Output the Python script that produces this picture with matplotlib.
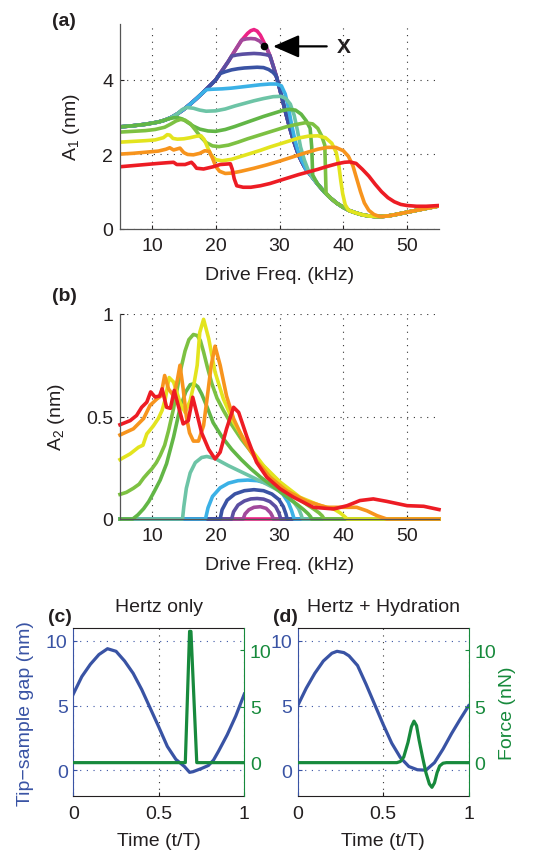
import numpy as np
import matplotlib
matplotlib.use("Agg")
import matplotlib.pyplot as plt

plt.rcParams['font.family'] = ['Liberation Sans', 'DejaVu Sans']
plt.rcParams['font.size'] = 14
plt.rcParams['mathtext.fontset'] = 'custom'
plt.rcParams['mathtext.rm'] = 'Liberation Sans'
plt.rcParams['mathtext.it'] = 'Liberation Sans:italic'

# one colour per setpoint, drawn in this order (pink first, red on top)
colors = ['#ec2285', '#a2499c', '#5b4fa2', '#3a53a4', '#3bb1e6', '#6dc4a6',
          '#62b646', '#7dc142', '#e3e41e', '#f7941d', '#ed1c24']

# ---------- panel (a): A1 vs drive frequency ----------
# free resonance curve (pink) that every curve follows outside its plateau
env_f = [5, 7, 9, 11, 12, 13, 14, 15, 16, 17, 18, 19, 20, 21, 22, 23, 24, 25, 25.5, 26,
         26.5, 27, 27.5, 28, 28.5, 29, 29.5, 30, 30.5, 31, 31.5, 32, 32.5, 33, 33.5, 34, 35, 36, 37, 38,
         39, 40, 41, 42, 43, 44, 45, 46, 47, 48, 50, 52, 55]
env_a = [2.74, 2.77, 2.81, 2.87, 2.92, 2.99, 3.09, 3.21, 3.35, 3.5, 3.66, 3.83, 4.0, 4.25, 4.5, 4.78, 5.05, 5.25, 5.32, 5.35,
         5.31, 5.2, 5.03, 4.85, 4.65, 4.38, 4.1, 3.78, 3.44, 3.1, 2.78, 2.48, 2.22, 1.98, 1.8, 1.64, 1.42, 1.2, 1.0, 0.83,
         0.69, 0.58, 0.49, 0.43, 0.38, 0.35, 0.335, 0.335, 0.35, 0.38, 0.45, 0.52, 0.62]

purple_f = [24.1, 24.8, 25.5, 26.2, 26.9, 27.6]
purple_a = [5.07, 5.1, 5.11, 5.1, 5.04, 4.92]
indigo_f = [22.5, 23.3, 24.2, 25, 26, 27, 27.8, 28.3]
indigo_a = [4.64, 4.67, 4.69, 4.7, 4.71, 4.7, 4.68, 4.66]
darkblue_f = [20.7, 21.5, 22.5, 23.5, 24.5, 25.5, 26.5, 27.5, 28.3, 29, 29.4]
darkblue_a = [4.17, 4.22, 4.27, 4.3, 4.32, 4.33, 4.34, 4.33, 4.28, 4.2, 4.12]
lightblue_f = [18.6, 19.5, 21, 22.5, 24, 25.5, 27, 28.5, 29.5, 30.3, 30.9, 31.4, 31.9, 32.4, 32.9, 33.4, 33.9]
lightblue_a = [3.74, 3.75, 3.76, 3.78, 3.81, 3.84, 3.87, 3.89, 3.89, 3.84, 3.62, 3.25, 2.8, 2.4, 2.1, 1.87, 1.7]
teal_f = [14.7, 15.5, 16.5, 17.5, 18.5, 20, 21.5, 23, 24.5, 26, 27.5, 29, 30.2, 31, 31.7, 32.3, 32.8, 33.3, 33.9, 34.5]
teal_a = [3.2, 3.26, 3.24, 3.19, 3.16, 3.17, 3.22, 3.3, 3.37, 3.44, 3.5, 3.55, 3.56, 3.5, 3.35, 3.05, 2.65, 2.2, 1.85, 1.58]
greenA_f = [12.5, 13.3, 14, 14.8, 15.6, 16.5, 17.5, 18.8, 20, 21.5, 23, 24.5, 26, 27.5, 29, 30.5, 31.5, 32.5,
            33.4, 34.2, 34.8, 35.05, 35.2]
greenA_a = [2.95, 2.98, 2.99, 2.95, 2.86, 2.76, 2.68, 2.63, 2.62, 2.67, 2.75, 2.84, 2.93, 3.02, 3.1, 3.18, 3.21, 3.19,
            3.08, 2.9, 2.7, 2.2, 1.45]
greenB_f = [5, 7, 9, 10.5, 12, 13, 13.8, 14.5, 15.2, 16, 16.8, 17.6, 18.5, 19.5, 20.5, 22, 23.5, 25, 26.5, 28,
            29.5, 31, 32.5, 34, 35.2, 36, 36.6, 37.1, 37.2, 37.3]
greenB_a = [2.6, 2.62, 2.64, 2.67, 2.73, 2.82, 2.9, 2.94, 2.92, 2.83, 2.66, 2.48, 2.32, 2.23, 2.21, 2.25, 2.33, 2.42, 2.5, 2.58,
            2.66, 2.74, 2.8, 2.85, 2.82, 2.7, 2.5, 2.25, 1.6, 0.96]
yellow_f = [5, 7, 9, 10.5, 11.8, 12.4, 12.8, 13.3, 14, 15, 16, 17, 17.7, 18.2, 18.7, 19.3, 20, 21, 22.5, 24,
            25.5, 27, 28.5, 30, 31.5, 33, 34.5, 36, 37.2, 38.2, 38.9, 39.3, 39.6, 39.9, 40.3, 40.8]
yellow_a = [2.33, 2.35, 2.37, 2.39, 2.45, 2.53, 2.52, 2.43, 2.41, 2.42, 2.45, 2.49, 2.5, 2.4, 2.2, 1.98, 1.86, 1.83, 1.87, 1.95,
            2.03, 2.11, 2.2, 2.28, 2.36, 2.44, 2.49, 2.5, 2.45, 2.3, 2.05, 1.7, 1.3, 0.95, 0.65, 0.51]
orange_f = [5, 7, 9, 11, 12.2, 12.8, 13.4, 14.4, 15, 15.6, 16.5, 17.5, 18.3, 19, 19.5, 20, 20.6, 21.5, 22.5, 24,
            26, 28, 30, 32, 34, 36, 37.5, 38.8, 40, 40.8, 41.5, 42.1, 42.7, 43.3, 44, 44.8, 45.6]
orange_a = [2.01, 2.03, 2.06, 2.09, 2.14, 2.18, 2.12, 2.17, 2.05, 2.0, 1.99, 2.03, 2.1, 2.08, 1.9, 1.68, 1.55, 1.49, 1.5, 1.55,
            1.63, 1.72, 1.82, 1.93, 2.04, 2.14, 2.19, 2.19, 2.1, 1.95, 1.7, 1.35, 1.0, 0.7, 0.5, 0.39, 0.34]
red_f = [5, 7, 9, 11, 12.5, 13.4, 13.9, 15.2, 16.2, 16.6, 17, 18.1, 19.6, 20.7, 22.3, 22.6, 22.9, 23.3, 24.3, 25.5,
         27, 28.5, 30, 31.5, 33, 34.5, 36, 37.5, 39, 40.2, 41, 42, 43, 44, 45, 46, 47, 48, 49, 50,
         51.5, 53, 55]
red_a = [1.67, 1.7, 1.73, 1.76, 1.78, 1.79, 1.73, 1.73, 1.79, 1.72, 1.63, 1.61, 1.67, 1.73, 1.75, 1.6, 1.35, 1.16, 1.12, 1.12,
         1.16, 1.22, 1.3, 1.38, 1.46, 1.53, 1.6, 1.68, 1.75, 1.79, 1.8, 1.76, 1.6, 1.42, 1.2, 1.0, 0.84, 0.73, 0.66, 0.63,
         0.61, 0.61, 0.63]

# ---------- panel (b): A2 vs drive frequency ----------
pink_b_f = [5, 55]
pink_b_a = [0, 0]
purple_b_f = [5, 24.3, 24.6, 25.2, 26, 27, 27.9, 28.6, 28.9, 29.0, 55]
purple_b_a = [0, 0, 0.025, 0.045, 0.057, 0.06, 0.052, 0.03, 0.012, 0, 0]
indigo_b_f = [5, 22.5, 22.8, 23.5, 24.5, 25.5, 26.5, 27.5, 28.5, 29.4, 29.9, 30.2, 55]
indigo_b_a = [0, 0, 0.035, 0.068, 0.088, 0.098, 0.1, 0.097, 0.085, 0.06, 0.03, 0, 0]
darkblue_b_f = [5, 20.7, 21, 21.8, 23, 24.5, 26, 27.5, 28.8, 29.9, 30.6, 31.0, 31.2, 55]
darkblue_b_a = [0, 0, 0.045, 0.092, 0.122, 0.138, 0.143, 0.138, 0.122, 0.095, 0.06, 0.025, 0, 0]
lightblue_b_f = [5, 18.4, 18.8, 19.5, 20.7, 22, 23.5, 25, 26.5, 28, 29.3, 30.5, 31.4, 31.9, 32.3, 55]
lightblue_b_a = [0, 0, 0.055, 0.11, 0.152, 0.175, 0.187, 0.19, 0.187, 0.175, 0.155, 0.122, 0.08, 0.04, 0, 0]
teal_b_f = [5, 14.8, 15.0, 15.4, 16, 16.8, 17.8, 18.6, 19.9, 22, 24, 26, 28, 29.8, 31.2, 32.3, 33.0, 33.4, 33.6, 55]
teal_b_a = [0, 0, 0.06, 0.15, 0.225, 0.275, 0.3, 0.305, 0.295, 0.26, 0.23, 0.2, 0.17, 0.14, 0.11, 0.08, 0.05, 0.02, 0, 0]
greenA_b_f = [5, 7.0, 7.8, 8.7, 9.5, 10.3, 11.3, 12.3, 13.4, 14.4, 15.3, 16.0, 16.6, 17.2, 17.8, 18.6, 19.6, 21, 22.5, 24,
              25.5, 27, 28.5, 30, 31.5, 32.8, 33.8, 34.5, 34.9, 35.0, 55]
greenA_b_a = [0, 0, 0.02, 0.05, 0.085, 0.13, 0.19, 0.27, 0.4, 0.54, 0.62, 0.655, 0.66, 0.645, 0.61, 0.55, 0.47, 0.4, 0.34, 0.29,
              0.245, 0.205, 0.17, 0.135, 0.1, 0.07, 0.045, 0.025, 0.01, 0, 0]
greenB_b_f = [5, 6, 7.1, 8, 8.7, 9.4, 10, 10.7, 11.3, 12, 12.6, 13.4, 14, 14.6, 15.2, 15.8, 16.5, 17.1, 17.6, 18.1,
              18.7, 19.4, 20.2, 21.2, 22.5, 24, 25.5, 27, 28.5, 30, 31.5, 33, 34.3, 35.3, 36.2, 36.7, 37.0, 55]
greenB_b_a = [0.12, 0.13, 0.15, 0.17, 0.2, 0.225, 0.245, 0.275, 0.31, 0.36, 0.43, 0.54, 0.64, 0.74, 0.82, 0.875, 0.9, 0.895, 0.87, 0.815,
              0.74, 0.66, 0.59, 0.53, 0.46, 0.39, 0.33, 0.275, 0.225, 0.18, 0.14, 0.1, 0.07, 0.05, 0.03, 0.015, 0, 0]
yellow_b_f = [5, 6.6, 7.9, 8.6, 9.2, 10.2, 11, 11.6, 12.1, 12.7, 13.4, 14.4, 15.2, 16, 16.6, 17.1, 17.5, 18.1, 18.9, 19.9,
              21.2, 22.8, 24.9, 27.5, 30.1, 33.2, 36.4, 38.5, 39.5, 40.2, 40.6, 55]
yellow_b_a = [0.29, 0.318, 0.35, 0.36, 0.415, 0.453, 0.49, 0.53, 0.586, 0.69, 0.668, 0.57, 0.52, 0.578, 0.66, 0.75, 0.91, 0.974, 0.88, 0.717,
              0.586, 0.472, 0.366, 0.26, 0.18, 0.106, 0.065, 0.049, 0.03, 0.012, 0, 0]
orange_b_f = [5, 7.1, 8.7, 9.7, 10.8, 11.4, 12.0, 12.6, 13.4, 14.0, 14.4, 14.9, 15.4, 15.9, 16.5, 17.3, 18.1, 18.7, 19.3, 19.9,
              20.7, 21.7, 22.8, 24.3, 26.4, 28.5, 31.1, 34.3, 37.4, 40.6, 42.1, 43.7, 45.3, 46.8, 55]
orange_b_a = [0.41, 0.44, 0.49, 0.554, 0.586, 0.6, 0.70, 0.635, 0.6, 0.68, 0.75, 0.635, 0.5, 0.42, 0.38, 0.38, 0.456, 0.6, 0.75, 0.843,
              0.75, 0.6, 0.49, 0.39, 0.285, 0.204, 0.138, 0.086, 0.057, 0.057, 0.057, 0.04, 0.016, 0, 0]
red_b_f = [5, 6.6, 7.6, 8.4, 9.2, 9.8, 10.5, 11.2, 11.6, 12.3, 12.9, 13.5, 14.2, 14.9, 15.7, 16.4, 17.0, 17.8, 18.9, 19.9,
           20.7, 21.7, 22.8, 23.6, 24.9, 26.4, 28, 30.1, 32.2, 35.3, 38.5, 40.6, 42.6, 44.7, 46.8, 50, 52.6, 55]
red_b_a = [0.46, 0.48, 0.505, 0.545, 0.57, 0.62, 0.595, 0.6, 0.635, 0.545, 0.54, 0.627, 0.545, 0.464, 0.48, 0.594, 0.52, 0.42, 0.34, 0.293,
           0.326, 0.44, 0.545, 0.52, 0.40, 0.277, 0.204, 0.147, 0.106, 0.057, 0.049, 0.065, 0.09, 0.098, 0.086, 0.065, 0.062, 0.046]

# ---------- panels (c), (d): gap and force over one period ----------
gap_c_t = [0, 0.05, 0.1, 0.15, 0.2, 0.25, 0.3, 0.35, 0.4, 0.45, 0.5, 0.55, 0.6, 0.65, 0.68, 0.7, 0.75, 0.79, 0.82, 0.85,
           0.9, 0.95, 1.0]
gap_c = [5.9, 7.25, 8.2, 8.95, 9.4, 9.2, 8.45, 7.5, 6.25, 4.8, 3.35, 1.85, 0.85, 0.3, -0.15, -0.1, 0.15, 0.38, 0.8, 1.5,
         2.75, 4.2, 5.9]
force_c_t = [0, 0.655, 0.68, 0.688, 0.722, 1.0]
force_c = [0, 0, 11.7, 11.7, 0, 0]
gap_d_t = [0, 0.05, 0.1, 0.15, 0.2, 0.23, 0.27, 0.3, 0.35, 0.4, 0.45, 0.5, 0.55, 0.6, 0.65, 0.7, 0.75, 0.8, 0.85, 0.9,
           0.95, 1]
gap_d = [5.0, 6.35, 7.5, 8.45, 9.05, 9.2, 9.1, 8.85, 8.1, 6.65, 5.1, 3.55, 2.1, 1.0, 0.3, 0.05, 0.02, 0.6, 1.65, 2.85,
         3.95, 5.0]
force_d_t = [0, 0.58, 0.6, 0.62, 0.645, 0.665, 0.68, 0.695, 0.71, 0.73, 0.75, 0.77, 0.785, 0.8, 0.815, 0.83, 0.85, 0.87, 1]
force_d = [0, 0, 0.1, 0.5, 1.8, 3.2, 3.7, 3.3, 2.0, 0.5, -0.9, -1.9, -2.2, -1.8, -0.9, -0.3, -0.05, 0, 0]

BLUE = '#3953a4'
GREEN = '#178a3c'
TXT = '#231f20'
DOTS = (0, (1, 5))


def splice(seg_f, seg_a):
    """free curve with one measured segment put in its place"""
    f = np.array(env_f)
    a = np.array(env_a)
    left = f < seg_f[0]
    right = f > seg_f[-1]
    return (np.concatenate([f[left], seg_f, f[right]]),
            np.concatenate([a[left], seg_a, a[right]]))


def style_freq_axes(ax):
    ax.set_xlim(5, 55)
    ax.set_xticks([10, 20, 30, 40, 50])
    for side in ['top', 'right']:
        ax.spines[side].set_visible(False)
    for side in ['left', 'bottom']:
        ax.spines[side].set_color('#555555')
        ax.spines[side].set_linewidth(0.9)
    ax.tick_params(direction='in', length=3, width=0.8, colors=TXT, labelsize=14)
    ax.tick_params(axis='x', pad=6)
    ax.tick_params(axis='y', pad=5)
    ax.grid(True, ls=DOTS, color='#333333', lw=0.8)
    ax.set_axisbelow(True)
    ax.set_xlabel('Drive Freq. (kHz)', fontsize=14, color=TXT)
    ax.xaxis.set_label_coords(0.5, -0.18)


fig = plt.figure(figsize=(5.5, 8.53), dpi=100)

# panel (a)
ax_a = fig.add_axes([120 / 550, 1 - 230 / 853, 319 / 550, 205 / 853])
segments_a = [(purple_f, purple_a), (indigo_f, indigo_a), (darkblue_f, darkblue_a),
              (lightblue_f, lightblue_a), (teal_f, teal_a), (greenA_f, greenA_a),
              (greenB_f, greenB_a), (yellow_f, yellow_a), (orange_f, orange_a), (red_f, red_a)]
ax_a.plot(env_f, env_a, color=colors[0], lw=2.6, solid_joinstyle='round')
for (sf, sa), c in zip(segments_a, colors[1:]):
    x, y = splice(sf, sa)
    ax_a.plot(x, y, color=c, lw=2.6, solid_joinstyle='round')
ax_a.set_ylim(0, 5.5)
ax_a.set_yticks([0, 2, 4])
style_freq_axes(ax_a)
ax_a.set_ylabel(r'A$_\mathregular{1}$ (nm)', fontsize=14, color=TXT)
ax_a.yaxis.set_label_coords(-0.12, 0.5)

# the marked point X
ax_a.plot([27.5], [4.92], 'o', color='k', ms=4.5, zorder=5)
ax_a.annotate('', xy=(29.0, 4.9), xytext=(37.4, 4.9),
              arrowprops=dict(arrowstyle='-|>,head_length=0.8,head_width=0.35',
                              mutation_scale=20, lw=1.6, color='k', shrinkA=0, shrinkB=0))
ax_a.text(40.0, 4.9, 'X', fontsize=15, fontweight='bold', ha='center', va='center', color=TXT)

# panel (b)
ax_b = fig.add_axes([120 / 550, 1 - 520 / 853, 319 / 550, 205 / 853])
curves_b = [(pink_b_f, pink_b_a), (purple_b_f, purple_b_a), (indigo_b_f, indigo_b_a),
            (darkblue_b_f, darkblue_b_a), (lightblue_b_f, lightblue_b_a), (teal_b_f, teal_b_a),
            (greenA_b_f, greenA_b_a), (greenB_b_f, greenB_b_a), (yellow_b_f, yellow_b_a),
            (orange_b_f, orange_b_a), (red_b_f, red_b_a)]
for (bf, ba), c in zip(curves_b, colors):
    ax_b.plot(bf, ba, color=c, lw=2.6, solid_joinstyle='round', clip_on=False)
ax_b.set_ylim(0, 1)
ax_b.set_yticks([0, 0.5, 1])
ax_b.set_yticklabels(['0', '0.5', '1'])
style_freq_axes(ax_b)
ax_b.set_ylabel(r'A$_\mathregular{2}$ (nm)', fontsize=14, color=TXT)
ax_b.yaxis.set_label_coords(-0.167, 0.5)


def time_panel(left, gap_t, gap, force_t, force, title, left_label, right_label):
    ax = fig.add_axes([left / 550, 1 - 797.3 / 853, 171 / 550, 168.3 / 853])
    tw = ax.twinx()
    ax.plot(gap_t, gap, color=BLUE, lw=2.3)
    tw.plot(force_t, force, color=GREEN, lw=2.3)
    ax.set_xlim(0, 1)
    ax.set_ylim(-2, 11)
    tw.set_ylim(-3, 12)
    ax.set_xticks([0, 0.5, 1])
    ax.set_xticklabels(['0', '0.5', '1'])
    ax.set_yticks([0, 5, 10])
    tw.set_yticks([0, 5, 10])
    ax.yaxis.grid(True, ls=DOTS, color=BLUE, lw=0.8)
    ax.xaxis.grid(True, ls=DOTS, color='#333333', lw=0.8)
    ax.set_axisbelow(True)
    ax.spines['left'].set_color(BLUE)
    ax.spines['right'].set_visible(False)
    for side in ['left', 'top', 'bottom']:
        tw.spines[side].set_visible(False)
    tw.spines['right'].set_color(GREEN)
    for side in ['top', 'bottom']:
        ax.spines[side].set_color(TXT)
    ax.tick_params(axis='x', direction='in', length=3, colors=TXT, labelsize=14, pad=6)
    ax.tick_params(axis='y', direction='in', length=3, colors=BLUE, labelsize=14, pad=4)
    tw.tick_params(axis='y', direction='in', length=3, colors=GREEN, labelsize=14, pad=4)
    ax.set_xlabel('Time (t/T)', fontsize=14, color=TXT)
    ax.xaxis.set_label_coords(0.5, -0.21)
    ax.set_title(title, fontsize=14, pad=12, color=TXT)
    if left_label:
        ax.set_ylabel(left_label, fontsize=14, color=BLUE)
        ax.yaxis.set_label_coords(-0.23, 0.5)
    if right_label:
        tw.set_ylabel(right_label, fontsize=14, color=GREEN)
        tw.yaxis.set_label_coords(1.18, 0.5)
    return ax


time_panel(73.3, gap_c_t, gap_c, force_c_t, force_c, 'Hertz only', 'Tip\u2212sample gap (nm)', None)
time_panel(297.7, gap_d_t, gap_d, force_d_t, force_d, 'Hertz + Hydration', None, 'Force (nN)')

# panel letters
for lab, xp, yp in [('(a)', 64, 21), ('(b)', 64, 297), ('(c)', 60, 618), ('(d)', 285, 618)]:
    fig.text(xp / 550, 1 - yp / 853, lab, fontsize=14, fontweight='bold',
             ha='center', va='center', color=TXT)

plt.savefig('out.png', dpi=100)
